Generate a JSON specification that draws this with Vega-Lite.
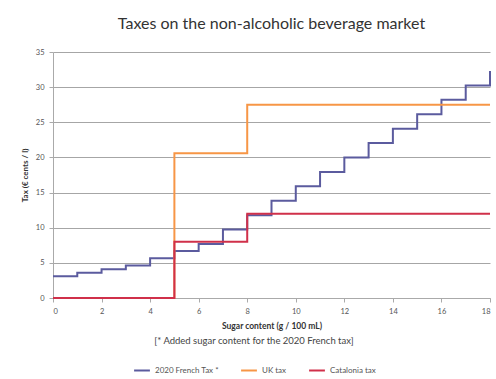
{
  "$schema": "https://vega.github.io/schema/vega-lite/v6.json",
  "width": 437,
  "height": 246,
  "padding": {"left": 21, "top": 16, "right": 2, "bottom": 5},
  "background": "white",
  "title": {"text": "Taxes on the non-alcoholic beverage market", "font": "Lato", "fontSize": 16, "fontWeight": "normal", "color": "#333333", "offset": 16, "anchor": "middle"},
  "config": {
    "font": "Lato",
    "view": {"stroke": null},
    "axis": {"labelFont": "Lato", "titleFont": "Lato", "labelColor": "#555555", "titleColor": "#333333", "labelFontSize": 7.5, "titleFontSize": 8.5}
  },
  "data": {"values": [
    {"series": "2020 French Tax *", "sugar": 0, "tax": 3.08},
    {"series": "2020 French Tax *", "sugar": 1, "tax": 3.59},
    {"series": "2020 French Tax *", "sugar": 2, "tax": 4.10},
    {"series": "2020 French Tax *", "sugar": 3, "tax": 4.61},
    {"series": "2020 French Tax *", "sugar": 4, "tax": 5.64},
    {"series": "2020 French Tax *", "sugar": 5, "tax": 6.67},
    {"series": "2020 French Tax *", "sugar": 6, "tax": 7.69},
    {"series": "2020 French Tax *", "sugar": 7, "tax": 9.74},
    {"series": "2020 French Tax *", "sugar": 8, "tax": 11.79},
    {"series": "2020 French Tax *", "sugar": 9, "tax": 13.84},
    {"series": "2020 French Tax *", "sugar": 10, "tax": 15.89},
    {"series": "2020 French Tax *", "sugar": 11, "tax": 17.94},
    {"series": "2020 French Tax *", "sugar": 12, "tax": 19.99},
    {"series": "2020 French Tax *", "sugar": 13, "tax": 22.04},
    {"series": "2020 French Tax *", "sugar": 14, "tax": 24.09},
    {"series": "2020 French Tax *", "sugar": 15, "tax": 26.14},
    {"series": "2020 French Tax *", "sugar": 16, "tax": 28.19},
    {"series": "2020 French Tax *", "sugar": 17, "tax": 30.24},
    {"series": "2020 French Tax *", "sugar": 18, "tax": 32.29},
    {"series": "UK tax", "sugar": 0, "tax": 0},
    {"series": "UK tax", "sugar": 5, "tax": 20.6},
    {"series": "UK tax", "sugar": 8, "tax": 27.5},
    {"series": "UK tax", "sugar": 18, "tax": 27.5},
    {"series": "Catalonia tax", "sugar": 0, "tax": 0},
    {"series": "Catalonia tax", "sugar": 5, "tax": 8},
    {"series": "Catalonia tax", "sugar": 8, "tax": 12},
    {"series": "Catalonia tax", "sugar": 18, "tax": 12}
  ]},
  "mark": {"type": "line", "interpolate": "step-after", "strokeWidth": 2},
  "encoding": {
    "x": {"field": "sugar", "type": "quantitative", "scale": {"domain": [0, 18], "nice": false},
      "axis": {"title": "Sugar content (g / 100 mL)", "titleFontWeight": "bold", "values": [0,2,4,6,8,10,12,14,16,18], "grid": false, "domainColor": "#aaaaaa", "tickColor": "#aaaaaa", "tickSize": 4, "labelPadding": 5, "titlePadding": 7}},
    "y": {"field": "tax", "type": "quantitative", "scale": {"domain": [0, 35], "nice": false},
      "axis": {"title": "Tax (€ cents / l)", "titleFontWeight": "bold", "titleFontSize": 8, "values": [0,5,10,15,20,25,30,35], "grid": true, "gridColor": "#a6a6a6", "gridWidth": 1, "domainColor": "#aaaaaa", "tickColor": "#aaaaaa", "tickSize": 4, "labelPadding": 5, "titlePadding": 6}},
    "color": {"field": "series", "type": "nominal",
      "scale": {"domain": ["2020 French Tax *", "UK tax", "Catalonia tax"], "range": ["#5b5b9e", "#f79646", "#d0304a"]},
      "sort": ["2020 French Tax *", "UK tax", "Catalonia tax"],
      "legend": {"orient": "none", "legendX": 80, "legendY": 284, "direction": "horizontal", "title": "[* Added sugar content for the 2020 French tax]", "titleLimit": 400, "titleFont": "Lato", "titleFontWeight": "normal", "titleFontSize": 9.5, "titleColor": "#444444", "titleOrient": "top", "titleAnchor": "middle", "titlePadding": 16, "symbolType": "stroke", "symbolStrokeWidth": 2, "symbolSize": 250, "labelFontSize": 8, "labelColor": "#555555", "columnPadding": 18}}
  }
}
